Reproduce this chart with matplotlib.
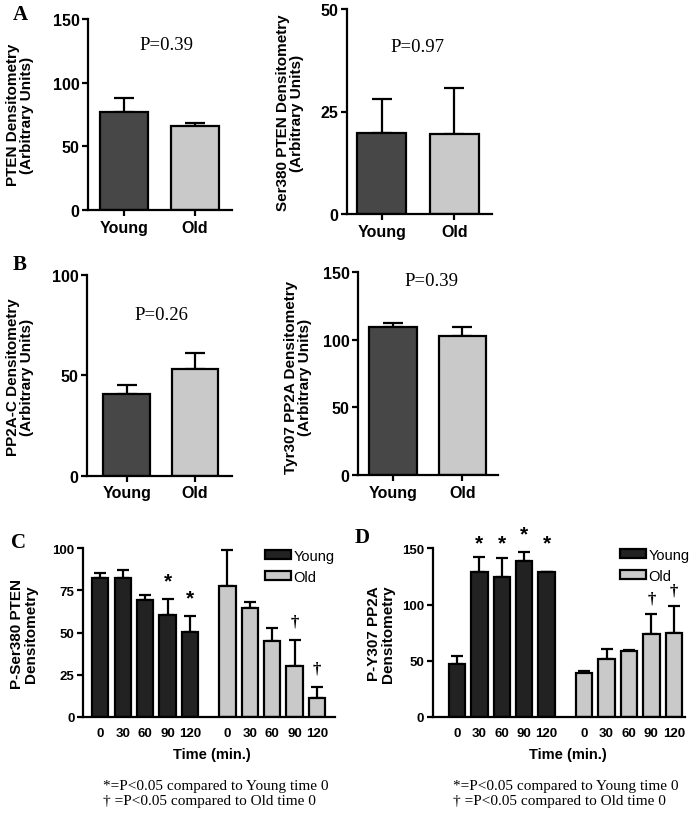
import matplotlib
matplotlib.use("Agg")
import matplotlib.pyplot as plt
from matplotlib.patches import Patch
import numpy as np

# ---------------- data ----------------
groups = ["Young", "Old"]

pten_mean = [77.0, 65.7]
pten_err = [10.7, 2.6]
pten_p = "P=0.39"

ser380_mean = [19.7, 19.5]
ser380_err = [8.3, 11.2]
ser380_p = "P=0.97"

pp2ac_mean = [40.7, 53.2]
pp2ac_err = [4.6, 7.8]
pp2ac_p = "P=0.26"

tyr307_mean = [109.2, 103.0]
tyr307_err = [2.8, 6.2]
tyr307_p = "P=0.39"

times = ["0", "30", "60", "90", "120"]

c_young = [82.1, 82.1, 69.3, 60.4, 50.1]
c_young_err = [3.4, 5.0, 2.9, 9.3, 9.5]
c_old = [77.6, 64.5, 45.3, 30.3, 11.3]
c_old_err = [21.4, 3.4, 7.2, 15.6, 6.5]
c_young_sig = [False, False, False, True, True]
c_old_sig = [False, False, False, True, True]

d_young = [46.9, 128.6, 124.2, 139.0, 129.2]
d_young_err = [6.9, 13.4, 16.9, 8.0, 0.0]
d_old = [39.5, 51.4, 58.8, 73.7, 74.3]
d_old_err = [1.5, 8.9, 0.9, 17.8, 24.6]
d_young_sig = [False, True, True, True, True]
d_young_sig_y = [None, 155, 155, 163, 155]
d_old_sig = [False, False, False, True, True]

foot1 = "*=P<0.05 compared to Young time 0"
foot2 = "\u2020 =P<0.05 compared to Old time 0"

# ---------------- style ----------------
W, H = 700, 820
fig = plt.figure(figsize=(W / 100, H / 100), dpi=100)
SANS = ["Liberation Sans", "DejaVu Sans"]
SERIF = ["Liberation Serif", "DejaVu Serif"]
plt.rcParams["font.family"] = SANS

DARK_AB = "#474747"
LIGHT = "#c9c9c9"
DARK_CD = "#222222"
LW = 1.6


def add_ax(l, r, t, b):
    return fig.add_axes([l / W, 1 - b / H, (r - l) / W, (b - t) / H])


def style_ax(ax, xtick_len=4, ls=11.5):
    for s in ["top", "right"]:
        ax.spines[s].set_visible(False)
    for s in ["left", "bottom"]:
        ax.spines[s].set_linewidth(LW)
    ax.tick_params(axis="y", direction="out", length=4, width=LW, labelsize=ls, pad=2)
    ax.tick_params(axis="x", direction="out", length=xtick_len, width=LW, labelsize=ls, pad=3)
    for lab in ax.get_xticklabels() + ax.get_yticklabels():
        lab.set_fontweight("bold")


def two_bar(ax, means, errs, ymax, yticks, xl, xr, ptext, px, py):
    x = np.arange(len(groups))
    ax.errorbar(x, means, yerr=[[0] * len(errs), errs], fmt="none", ecolor="black",
                elinewidth=LW, capsize=7, capthick=LW, zorder=1)
    ax.bar(x, means, width=0.68, color=[DARK_AB, LIGHT], edgecolor="black",
           linewidth=LW, zorder=2)
    ax.set_xlim(xl, xr)
    ax.set_ylim(0, ymax)
    ax.set_yticks(yticks)
    ax.set_xticks(x)
    ax.set_xticklabels(groups)
    style_ax(ax)
    fig.text(px / W, 1 - py / H, ptext, family=SERIF, fontsize=13.5, ha="center", va="center")


def ylab(x, y, text, fs=11):
    fig.text(x / W, 1 - y / H, text, rotation=90, ha="center", va="center",
             fontsize=fs, fontweight="bold", linespacing=0.98)


# ---------------- panel A ----------------
axA1 = add_ax(88, 232, 20, 211)
two_bar(axA1, pten_mean, pten_err, 150, [0, 50, 100, 150], -0.51, 1.52, pten_p, 166, 45)
ylab(20, 115, "PTEN Densitometry\n(Arbitrary Units)")

axA2 = add_ax(347, 492, 10, 215)
two_bar(axA2, ser380_mean, ser380_err, 50, [0, 25, 50], -0.48, 1.52, ser380_p, 417, 48)
ylab(290, 113, "Ser380 PTEN Densitometry\n(Arbitrary Units)")

fig.text(20 / W, 1 - 15 / H, "A", family=SERIF, fontsize=15, fontweight="bold",
         ha="center", va="center")

# ---------------- panel B ----------------
axB1 = add_ax(87, 232, 276, 476.7)
two_bar(axB1, pp2ac_mean, pp2ac_err, 100, [0, 50, 100], -0.58, 1.54, pp2ac_p, 161, 316)
ylab(20, 377, "PP2A-C Densitometry\n(Arbitrary Units)")

axB2 = add_ax(358, 498, 273, 476)
two_bar(axB2, tyr307_mean, tyr307_err, 150, [0, 50, 100, 150], -0.50, 1.51, tyr307_p, 431, 282)
ylab(298, 377, "Tyr307 PP2A Densitometry\n(Arbitrary Units)")

fig.text(20 / W, 1 - 265 / H, "B", family=SERIF, fontsize=15, fontweight="bold",
         ha="center", va="center")


# ---------------- panels C / D ----------------
def time_panel(ax, young, yerr, old, oerr, ymax, yticks, xl, xr,
               ysig, osig, ysig_y, yoff, ooff, leg_xy):
    n = len(times)
    gap = 1.67
    xy = np.arange(n)
    xo = np.arange(n) + n - 1 + gap
    ax.errorbar(xy, young, yerr=[[0] * n, yerr], fmt="none", ecolor="black",
                elinewidth=LW, capsize=4, capthick=LW, zorder=1)
    ax.errorbar(xo, old, yerr=[[0] * n, oerr], fmt="none", ecolor="black",
                elinewidth=LW, capsize=4, capthick=LW, zorder=1)
    ax.bar(xy, young, width=0.73, color=DARK_CD, edgecolor="black", linewidth=LW, zorder=2)
    ax.bar(xo, old, width=0.73, color=LIGHT, edgecolor="black", linewidth=LW, zorder=2)
    for i in range(n):
        if ysig[i]:
            yy = ysig_y[i] if ysig_y is not None else young[i] + yerr[i] + yoff
            ax.text(xy[i], yy, "*", ha="center", va="center", fontsize=15,
                    fontweight="bold", clip_on=False)
        if osig[i]:
            ax.text(xo[i], old[i] + oerr[i] + ooff, "\u2020", family=SERIF,
                    ha="center", va="center", fontsize=12, fontweight="bold",
                    clip_on=False)
    ax.set_xlim(xl, xr)
    ax.set_ylim(0, ymax)
    ax.set_yticks(yticks)
    ax.set_xticks(np.concatenate([xy, xo]))
    ax.set_xticklabels(times + times)
    style_ax(ax, xtick_len=0, ls=9.5)
    ax.tick_params(axis="x", pad=7)
    handles = [Patch(facecolor=DARK_CD, edgecolor="black", linewidth=LW),
               Patch(facecolor=LIGHT, edgecolor="black", linewidth=LW)]
    ax.legend(handles, groups, loc="upper left",
              bbox_to_anchor=(leg_xy[0] / W, 1 - leg_xy[1] / H),
              bbox_transform=fig.transFigure, frameon=False, fontsize=10.5,
              handlelength=1.8, handleheight=0.6, labelspacing=0.45,
              handletextpad=0.15, borderpad=0, borderaxespad=0)


axC = add_ax(83, 335, 549.3, 718)
time_panel(axC, c_young, c_young_err, c_old, c_old_err, 100, [0, 25, 50, 75, 100],
           -0.77, 10.47, c_young_sig, c_old_sig, None, 11, 11, (265, 550))
ylab(24, 634, "P-Ser380 PTEN\nDensitometry", fs=11)
fig.text(212 / W, 1 - 755 / H, "Time (min.)", ha="center", va="center",
         fontsize=10.5, fontweight="bold")
fig.text(103 / W, 1 - 787 / H, foot1, family=SERIF, fontsize=11, ha="left", va="center")
fig.text(103 / W, 1 - 802 / H, foot2, family=SERIF, fontsize=11, ha="left", va="center")
fig.text(18 / W, 1 - 543 / H, "C", family=SERIF, fontsize=15, fontweight="bold",
         ha="center", va="center")

axD = add_ax(432.7, 685, 549.3, 718)
time_panel(axD, d_young, d_young_err, d_old, d_old_err, 150, [0, 50, 100, 150],
           -1.08, 10.17, d_young_sig, d_old_sig, d_young_sig_y, 14, 14, (620, 549))
ylab(381, 634, "P-Y307 PP2A\nDensitometry", fs=11)
fig.text(568 / W, 1 - 755 / H, "Time (min.)", ha="center", va="center",
         fontsize=10.5, fontweight="bold")
fig.text(453 / W, 1 - 787 / H, foot1, family=SERIF, fontsize=11, ha="left", va="center")
fig.text(453 / W, 1 - 802 / H, foot2, family=SERIF, fontsize=11, ha="left", va="center")
fig.text(362 / W, 1 - 538 / H, "D", family=SERIF, fontsize=15, fontweight="bold",
         ha="center", va="center")

fig.savefig("out.png", dpi=100)
